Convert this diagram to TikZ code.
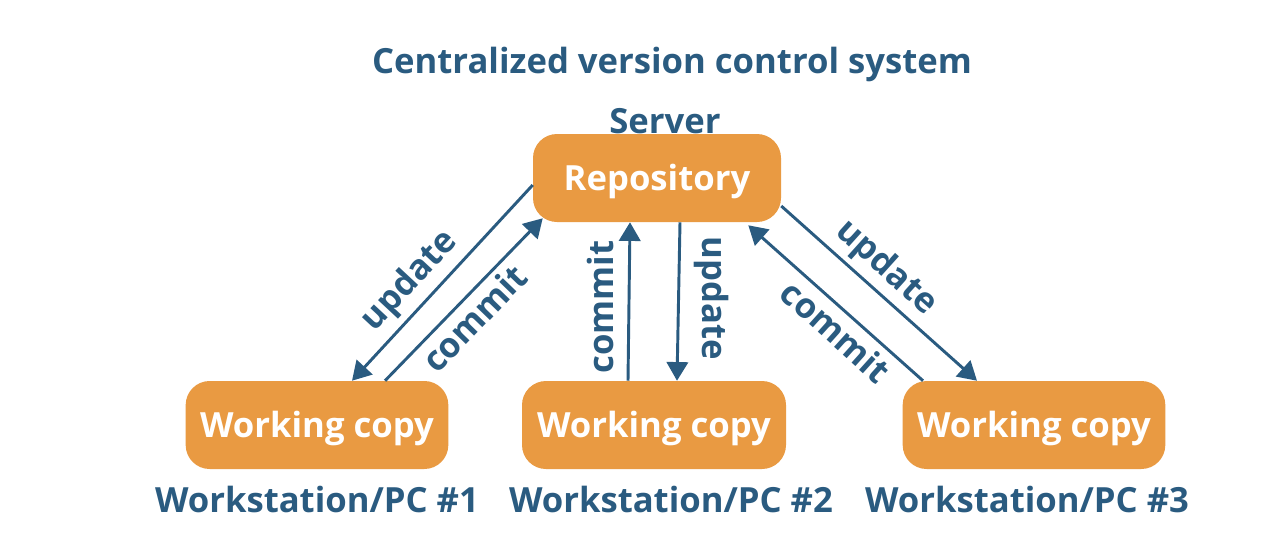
\documentclass[tikz,border=0pt]{standalone}
\usepackage{fontspec}
\setmainfont{Open Sans}
\usetikzlibrary{arrows.meta,calc}
\definecolor{boxorange}{HTML}{E99A42}
\definecolor{inkblue}{HTML}{2A5B80}
\begin{document}
\begin{tikzpicture}[x=0.75pt,y=-0.75pt,
  copybox/.style={fill=boxorange,rounded corners=18pt,text=white,font=\bfseries\fontsize{26}{31}\selectfont,
    minimum width=#1,minimum height=66pt,inner sep=0pt,text depth=1pt},
  caption/.style={text=inkblue,font=\bfseries\fontsize{26}{31}\selectfont,inner sep=0pt},
  flow/.style={draw=inkblue,line width=2.2pt,-{Triangle[length=14pt,width=16pt]}},
  flowlabel/.style={text=inkblue,font=\bfseries\fontsize{26}{31}\selectfont,inner sep=0pt}]
\useasboundingbox (0,0) rectangle (1264,550);
% title and server caption
\node[caption] (title) at (672,64) {Centralized version control system};
\node[caption] (server) at (665,121) {Server};
% repository and working copies
\node[copybox=186pt] (repo) at (657,178) {Repository};
\node[copybox=197pt] (wc1) at (317,425) {Working copy};
\node[copybox=198pt] (wc2) at (654,425) {Working copy};
\node[copybox=197pt] (wc3) at (1034,425) {Working copy};
% workstation captions
\node[caption] (pc1) at (317,499) {Workstation/PC \#1};
\node[caption] (pc2) at (671,499) {Workstation/PC \#2};
\node[caption] (pc3) at (1027,499) {Workstation/PC \#3};
% left pair
\draw[flow] ($(repo.west)+(0,7)$) -- ($(wc1.north)+(35,0)$);
\draw[flow] ($(wc1.north)+(68,0)$) -- ($(repo.south west)+(10,-4)$);
\node[flowlabel,rotate=47] (l1) at (410,281) {update};
\node[flowlabel,rotate=46] (l2) at (474,318) {commit};
% middle pair
\draw[flow] ($(wc2.north)+(-26,0)$) -- ($(repo.south)+(-27,0)$);
\draw[flow] ($(repo.south)+(23,0)$) -- ($(wc2.north)+(23,0)$);
\node[flowlabel,rotate=90] (m1) at (600,307) {commit};
\node[flowlabel,rotate=-90] (m2) at (711,298) {update};
% right pair
\draw[flow] ($(wc3.north)+(-111,0)$) -- ($(repo.south east)+(-33,3)$);
\draw[flow] ($(repo.east)+(0,28)$) -- ($(wc3.north)+(-57,0)$);
\node[flowlabel,rotate=-42] (r1) at (886,268) {update};
\node[flowlabel,rotate=-42] (r2) at (836,331) {commit};
\end{tikzpicture}
\end{document}
